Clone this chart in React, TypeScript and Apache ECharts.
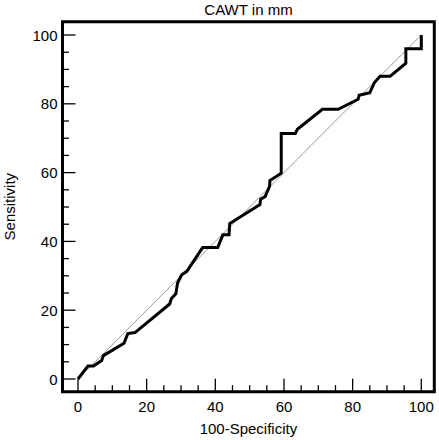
import React, { useEffect, useRef } from "react";
import * as echarts from "echarts";

// ROC curve points
const fpr = [
  0, 2.9, 4.5, 6.9, 7.4, 13.4, 14.5, 16.6, 26.7, 27.2, 28.5, 29, 30.2, 31.7,
  36.3, 40.7, 42.2, 44, 44.2, 53, 53.2, 54.5, 55.8, 55.9, 59.2, 59.2, 63.3,
  63.9, 71.2, 75.8, 81.6, 81.9, 85, 86.3, 88, 90.9, 95.5, 95.5, 100, 100,
];
const tpr = [
  0, 3.8, 3.8, 5.4, 6.8, 10.4, 13.2, 13.5, 21.8, 23.4, 24.8, 27.9, 30.3, 31.3,
  38.2, 38.2, 41.9, 41.9, 45.2, 50.7, 52.3, 53, 56, 57.7, 59.8, 71.4, 71.4,
  72.6, 78.4, 78.4, 81.3, 82.5, 83.2, 86.1, 88, 88, 91.8, 96, 96, 100,
];
const diagX = [0, 100];
const diagY = [0, 100];

// tick labels / tick positions
const majorTicks = [0, 20, 40, 60, 80, 100];
const minorTicks = [
  5, 10, 15, 25, 30, 35, 45, 50, 55, 65, 70, 75, 85, 90, 95,
];

// axis extents (the frame sits a little outside 0..100)
const xMin = -4.52;
const xMax = 103.79;
const yMin = -3.69;
const yMax = 103.87;

const FONT = "'Liberation Sans', Arial, sans-serif";

const App: React.FC = () => {
  const chartRef = useRef<HTMLDivElement>(null);

  useEffect(() => {
    const chart = echarts.init(chartRef.current, null, { renderer: "svg" });

    const labelStyle = { color: "#000", fontSize: 15, fontFamily: FONT };

    chart.setOption({
      animation: false,
      backgroundColor: "#fff",
      title: {
        text: "CAWT in mm",
        left: 248.5,
        top: 2,
        padding: 0,
        textAlign: "center",
        textStyle: { ...labelStyle, fontWeight: "normal" },
      },
      grid: {
        left: 62.5,
        right: 4.7,
        top: 21.7,
        bottom: 48.3,
        show: true,
        borderColor: "#000",
        borderWidth: 3,
        backgroundColor: "transparent",
        containLabel: false,
        outerBoundsMode: "none",
      },
      xAxis: {
        type: "value",
        min: xMin,
        max: xMax,
        name: "100-Specificity",
        nameLocation: "middle",
        nameGap: 29,
        nameTextStyle: labelStyle,
        axisLine: { show: false, onZero: false },
        axisTick: { show: false },
        splitLine: { show: false },
        axisLabel: { ...labelStyle, margin: 7, customValues: majorTicks },
      },
      yAxis: {
        type: "value",
        min: yMin,
        max: yMax,
        name: "Sensitivity",
        nameLocation: "middle",
        nameGap: 46,
        nameTextStyle: labelStyle,
        axisLine: { show: false, onZero: false },
        axisTick: { show: false },
        splitLine: { show: false },
        axisLabel: { ...labelStyle, margin: 5, customValues: majorTicks },
      },
      series: [
        {
          type: "line",
          data: diagX.map((x, i) => [x, diagY[i]]),
          symbol: "none",
          lineStyle: { color: "#999", width: 1 },
          silent: true,
          z: 2,
        },
        {
          type: "line",
          data: fpr.map((x, i) => [x, tpr[i]]),
          symbol: "none",
          clip: false,
          lineStyle: { color: "#000", width: 3, join: "miter" },
          z: 3,
        },
      ],
    });

    // inward ticks from the frame edge, placed through the chart's own scales
    const tickLines: any[] = [];
    const addTicks = (values: number[], len: number) => {
      values.forEach((v) => {
        const px = chart.convertToPixel({ gridIndex: 0 }, [v, yMin]) as number[];
        tickLines.push({
          type: "line",
          shape: { x1: px[0], y1: px[1], x2: px[0], y2: px[1] - len },
          style: { stroke: "#000", lineWidth: 1.3 },
          z: 5,
          silent: true,
        });
        const py = chart.convertToPixel({ gridIndex: 0 }, [xMin, v]) as number[];
        tickLines.push({
          type: "line",
          shape: { x1: py[0], y1: py[1], x2: py[0] + len, y2: py[1] },
          style: { stroke: "#000", lineWidth: 1.3 },
          z: 5,
          silent: true,
        });
      });
    };
    addTicks(majorTicks, 13);
    addTicks(minorTicks, 6.5);
    chart.setOption({ graphic: tickLines });

    return () => {
      chart.dispose();
    };
  }, []);

  return (
    <div
      ref={chartRef}
      style={{ position: "absolute", left: 0, top: 0, width: 439, height: 440 }}
    ></div>
  );
};

export default App;
